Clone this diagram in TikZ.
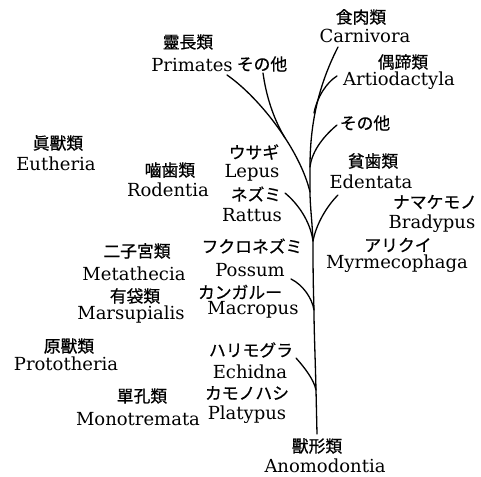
\documentclass[tikz,border=0pt]{standalone}
\usepackage{fontspec}
\setmainfont{DejaVu Serif}
\newfontfamily\jp[FakeBold=0.6]{Noto Sans CJK JP}
\tikzset{
  jt/.style={inner sep=0pt, font=\jp\fontsize{16.8}{18}\selectfont, anchor=center},
  lt/.style={inner sep=0pt, font=\fontsize{18}{20}\selectfont, anchor=base},
  br/.style={line width=1.3pt, line cap=round}
}
\begin{document}
\begin{tikzpicture}[x=1pt,y=-1pt]
\useasboundingbox (0,0) rectangle (481,476);
\fill[white] (0,0) rectangle (481,476);
% labels
\node[jt] (carJ) at (361,17) {食肉類};
\node[lt] (carL) at (365,43) {Carnivora};
\node[jt] (artJ) at (403,62) {偶蹄類};
\node[lt] (artL) at (399,85) {Artiodactyla};
\node[jt] (othR) at (365,123) {その他};
\node[jt] (priJ) at (188,42) {靈長類};
\node[lt] (priL) at (192,72) {Primates};
\node[jt] (othL) at (262,64) {その他};
\node[jt] (lepJ) at (254,152) {ウサギ};
\node[lt] (lepL) at (252,177) {Lepus};
\node[jt] (ratJ) at (256,194) {ネズミ};
\node[lt] (ratL) at (252,221) {Rattus};
\node[jt] (posJ) at (252,246) {フクロネズミ};
\node[lt] (posL) at (250,276) {Possum};
\node[jt] (macJ) at (240,292) {カンガルー};
\node[lt] (macL) at (253,314) {Macropus};
\node[jt] (ednJ) at (373,161) {貧歯類};
\node[lt] (ednL) at (371,188) {Edentata};
\node[jt] (braJ) at (435,202) {ナマケモノ};
\node[lt] (braL) at (432,228) {Bradypus};
\node[jt] (myrJ) at (398,245) {アリクイ};
\node[lt] (myrL) at (397,268) {Myrmecophaga};
\node[jt] (echJ) at (251,350) {ハリモグラ};
\node[lt] (echL) at (250,378) {Echidna};
\node[jt] (plaJ) at (247,393) {カモノハシ};
\node[lt] (plaL) at (247,419) {Platypus};
\node[jt] (anoJ) at (317,446) {獸形類};
\node[lt] (anoL) at (325,472) {Anomodontia};
\node[jt] (eutJ) at (58,143) {眞獸類};
\node[lt] (eutL) at (56,170) {Eutheria};
\node[jt] (rodJ) at (170,170) {嚙歯類};
\node[lt] (rodL) at (168,196) {Rodentia};
\node[jt] (metJ) at (137,251) {二子宮類};
\node[lt] (metL) at (134,280) {Metathecia};
\node[jt] (marJ) at (135,296) {有袋類};
\node[lt] (marL) at (131,319) {Marsupialis};
\node[jt] (proJ) at (69,346) {原獸類};
\node[lt] (proL) at (66,370) {Prototheria};
\node[jt] (monJ) at (142,396) {單孔類};
\node[lt] (monL) at (138,425) {Monotremata};
% tree points
\coordinate (base) at (317,434);
\coordinate (jE) at (316,390);
\coordinate (jP) at (314,310);
\coordinate (jR) at (313,241);
\coordinate (jPr) at (310,192);
\coordinate (jO) at (310,167);
\coordinate (jA) at (314,113);
\coordinate (carTop) at (338,47);
\coordinate (artTop) at (337,76);
\coordinate (othRTop) at (337,125);
\coordinate (priTop) at (227,75);
\coordinate (othLTop) at (263,73);
\coordinate (jOL) at (285,138);
\coordinate (ratTop) at (285,193);
\coordinate (ednTop) at (338,195);
\coordinate (posTop) at (291,279);
\coordinate (echTop) at (296,358);
% branches
\draw[br] (base) -- (jE) .. controls (315,350) and (314,330) .. (jP)
  .. controls (313,280) and (313,260) .. (jR)
  .. controls (312,220) and (310,205) .. (jPr) -- (jO)
  .. controls (310,130) and (316,90) .. (carTop);
\draw[br] (artTop) .. controls (327,82) and (317,97) .. (jA);
\draw[br] (othRTop) .. controls (325,135) and (312,150) .. (jO);
\draw[br] (priTop) .. controls (260,98) and (300,150) .. (jPr);
\draw[br] (othLTop) .. controls (266,95) and (273,118) .. (jOL);
\draw[br] (ratTop) .. controls (297,203) and (310,220) .. (jR);
\draw[br] (ednTop) .. controls (326,207) and (316,225) .. (jR);
\draw[br] (posTop) .. controls (303,285) and (312,298) .. (jP);
\draw[br] (echTop) .. controls (305,368) and (314,380) .. (jE);
\end{tikzpicture}
\end{document}
